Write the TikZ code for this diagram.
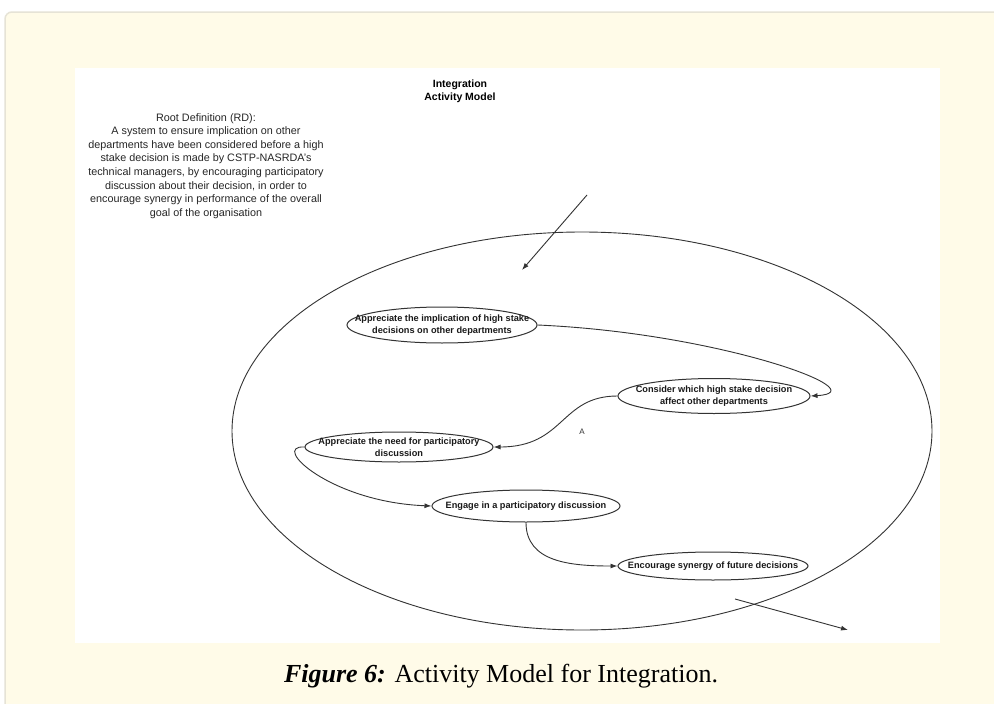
\documentclass[tikz,border=0pt]{standalone}
\usepackage{fontspec}
\setmainfont{Liberation Sans}
\newfontfamily\capfont{Liberation Serif}
\usetikzlibrary{arrows.meta,shapes.geometric}
\definecolor{panelcream}{HTML}{FFFBE8}
\definecolor{panelborder}{HTML}{E6E3D6}
\definecolor{inkgrey}{HTML}{333333}
\tikzset{
  actbox/.style={draw=inkgrey, line width=1pt, ellipse, inner sep=0pt},
  acttext/.style={inner sep=0pt, align=center,
    font=\fontsize{9.2}{11.5}\selectfont\bfseries, text=black!90},
  conn/.style={draw=inkgrey, line width=0.9pt, -{Latex[length=7pt,width=5pt]}},
  plain/.style={draw=inkgrey, line width=0.9pt}
}
\begin{document}
\begin{tikzpicture}[x=1pt,y=-1pt]
\useasboundingbox (0,0) rectangle (994,704);
\fill[white] (0,0) rectangle (994,704);
\draw[panelborder, fill=panelcream, line width=1.5pt, rounded corners=7pt] (5,12) -- (1010,12) -- (1010,720) -- (5,720) -- cycle;
\fill[white] (75,68) rectangle (940,643);
% outer system boundary
\draw[plain] (582,431) ellipse [x radius=350, y radius=199];
% title
\node[font=\fontsize{10.5}{13}\selectfont\bfseries, align=center] (title) at (460,91) {Integration\\Activity Model};
% root definition
\node[font=\fontsize{10.8}{13.6}\selectfont, align=center, text=black!85] (rd) at (206,166) {Root Definition (RD):\\A system to ensure implication on other\\departments have been considered before a high\\stake decision is made by CSTP-NASRDA's\\technical managers, by encouraging participatory\\discussion about their decision, in order to\\encourage synergy in performance of the overall\\goal of the organisation};
% activities (ellipse outlines)
\node[actbox, minimum width=190pt, minimum height=36pt] (n1) at (442,325) {};
\node[actbox, minimum width=192pt, minimum height=35pt] (n2) at (714,396) {};
\node[actbox, minimum width=188pt, minimum height=30pt] (n3) at (399,447) {};
\node[actbox, minimum width=188pt, minimum height=32pt] (n4) at (526,506) {};
\node[actbox, minimum width=190pt, minimum height=28pt] (n5) at (713,566) {};
% activity texts
\node[acttext] (n1t) at (n1.center) {Appreciate the implication of high stake\\decisions on other departments};
\node[acttext] (n2t) at (n2.center) {Consider which high stake decision\\affect other departments};
\node[acttext] (n3t) at (n3.center) {Appreciate the need for participatory\\discussion};
\node[acttext] (n4t) at (n4.center) {Engage in a participatory discussion};
\node[acttext] (n5t) at (n5.center) {Encourage synergy of future decisions};
\node[font=\fontsize{8}{9}\selectfont, text=black!80] (lblA) at (582,432) {A};
% connectors
\draw[conn] (n1.east) .. controls (720,333) and (880,392) .. (n2.east);
\draw[conn] (n2.west) .. controls (560,396) and (565,447) .. (n3.east);
\draw[conn] (n3.west) .. controls (270,445) and (330,502) .. (n4.west);
\draw[conn] (n4.south) .. controls (526,562) and (570,566) .. (n5.west);
% input / output
\coordinate (inS) at (587,195);
\coordinate (inE) at (522,270);
\draw[conn] (inS) -- (inE);
\coordinate (outS) at (735,599);
\coordinate (outE) at (848,630);
\draw[conn] (outS) -- (outE);
% caption
\node[font=\capfont\fontsize{26}{30}\selectfont] (cap) at (501,676) {\textbf{\textit{Figure 6:}} Activity Model for Integration.};
\end{tikzpicture}
\end{document}
